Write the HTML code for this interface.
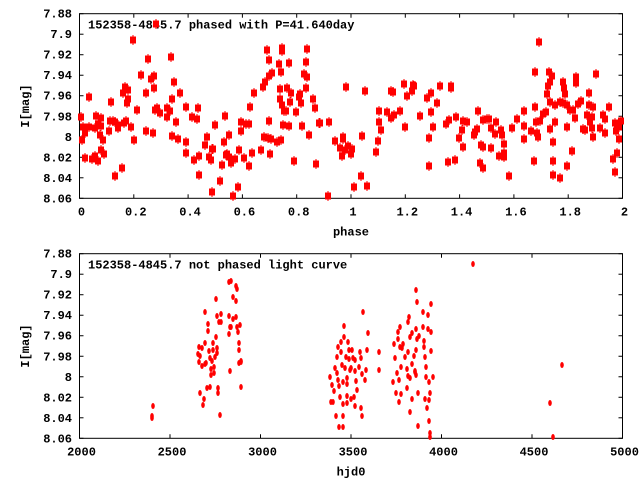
<!DOCTYPE html>
<html><head><meta charset="utf-8"><style>
html,body{margin:0;padding:0;background:#fff;}
svg{display:block;}
text{font-family:"Liberation Mono",monospace;font-weight:bold;font-size:12px;fill:#000;}
</style></head><body>
<svg id="s" width="640" height="480" xmlns="http://www.w3.org/2000/svg">
<rect width="640" height="480" fill="#fff"/>
<g id="g"></g>
</svg>
<script>
(function(){
var NS="http://www.w3.org/2000/svg",g=document.getElementById('g');
function el(t,a,txt){var e=document.createElementNS(NS,t);for(var k in a)e.setAttribute(k,a[k]);if(txt!==undefined)e.textContent=txt;g.appendChild(e);return e;}
var L=79.5,R=622.5;
function frame(T,B,xt,title,xl){
  el('rect',{x:L,y:T,width:R-L,height:B-T,fill:'none',stroke:'#000','stroke-width':1});
  var yl=['7.88','7.9','7.92','7.94','7.96','7.98','8','8.02','8.04','8.06'];
  for(var i=0;i<10;i++){var y=T+(B-T)*i/9;
    el('line',{x1:L,y1:y,x2:L+4,y2:y,stroke:'#000'});el('line',{x1:R,y1:y,x2:R-4,y2:y,stroke:'#000'});
    el('text',{x:72,y:y+4,'text-anchor':'end'},yl[i]);}
  for(var j=0;j<xt.length;j++){var x=L+(R-L)*j/(xt.length-1);
    el('line',{x1:x,y1:T,x2:x,y2:T+4,stroke:'#000'});el('line',{x1:x,y1:B,x2:x,y2:B-4,stroke:'#000'});
    el('text',{x:x+2,y:B+17,'text-anchor':'middle'},xt[j]);}
  el('text',{x:88,y:T+15},title);
  el('text',{x:351,y:B+37,'text-anchor':'middle'},xl);
  var cy=(T+B)/2;el('text',{x:29,y:cy,'text-anchor':'middle',transform:'rotate(-90 29 '+cy+')'},'I[mag]');
}
frame(13.7,198.3,['0','0.2','0.4','0.6','0.8','1','1.2','1.4','1.6','1.8','2'],'152358-4845.7 phased with P=41.640day','phase');
frame(253.7,438.3,['2000','2500','3000','3500','4000','4500','5000'],'152358-4845.7 not phased light curve','hjd0');
var topPts=[81,117,82,140,83,127,85,133,85,158,89,97,89,127,92,159,95,156,96,116,95,128,98,124,98,161,101,126,100,135,101,150,101,118,103,140,104,154,109,131,110,121,111,102,113,121,115,176,115,122,118,125,118,128,122,168,123,93,124,123,125,87,126,121,127,103,128,90,128,99,131,127,133,40,134,140,137,110,141,75,146,93,146,131,148,59,151,79,153,133,154,76,154,88,155,110,157,108,156,24,160,113,167,117,167,108,170,111,171,57,172,99,172,136,174,82,176,122,178,139,180,93,186,107,186,142,186,153,192,117,194,160,197,119,198,108,199,156,199,175,205,145,207,137,209,157,211,160,212,149,213,149,212,192,215,125,220,181,222,165,224,142,225,116,226,155,227,154,229,135,229,157,231,163,233,196,235,159,238,187,239,150,241,122,241,131,244,158,246,124,249,124,249,166,250,107,252,153,254,93,261,150,263,87,265,82,264,137,267,50,268,138,269,121,269,60,269,76,270,154,271,139,272,73,277,142,279,64,280,89,281,72,280,99,281,140,282,48,282,51,282,105,283,125,284,111,286,111,287,88,289,63,289,126,290,102,291,93,294,161,296,112,299,97,300,94,301,103,302,126,304,74,306,62,306,88,307,49,307,77,309,135,313,99,315,108,316,164,319,123,
320,123,329,122,335,141,340,148,342,156,343,137,343,139,345,150,346,87,348,146,351,154,352,149,328,196,354,187,361,176,362,136,365,91,367,186,376,152,378,141,379,111,379,122,381,130,387,112,391,118,391,91,393,92,394,115,400,111,404,84,405,127,407,96,412,91,413,85,414,86,420,116,427,98,429,138,429,166,431,112,431,93,433,127,437,103,440,86,446,124,448,162,449,120,451,86,451,88,455,160,456,117,459,138,462,130,463,147,463,121,467,122,474,135,475,132,477,129,478,111,480,163,481,145,483,168,483,147,483,120,487,119,489,119,491,128,491,148,495,134,496,122,499,156,501,130,502,135,504,144,504,153,504,157,509,176,512,128,517,119,524,111,524,126,524,139,531,131,534,161,535,107,536,122,537,133,538,137,535,72,539,42,540,121,543,114,546,112,547,94,548,86,549,72,550,82,550,102,550,129,552,76,553,142,553,161,553,175,555,105,555,122,560,102,560,178,563,82,563,103,564,88,565,94,567,105,567,127,567,166,570,110,572,151,573,110,575,118,576,77,576,83,578,104,581,101,583,129,585,130,587,115,589,93,589,105,590,122,592,117,592,128,593,107,593,137,596,74,600,128,603,115,605,119,605,133,609,107,613,159,615,123,615,172,616,131,617,125,617,153,619,127,619,139,621,121];
for(var i=0;i<topPts.length;i+=2){var x=topPts[i],y=topPts[i+1];
  el('rect',{x:x-3,y:y-3.5,width:6,height:7,fill:'#f00'});
  el('line',{x1:x,y1:y-5,x2:x,y2:y+5,stroke:'#f00','stroke-width':1});}
var bot=[153,406,152,416,152,418,198,354,199,362,199,347,200,356,200,393,202,348,202,366,203,405,204,399,205,364,205,312,205,343,206,363,207,388,208,331,208,324,209,351,210,387,210,358,211,369,211,375,212,361,213,343,213,350,214,373,214,367,215,357,216,337,216,299,217,316,217,353,217,348,218,393,218,388,219,322,220,415,221,322,221,314,229,282,229,316,229,334,230,327,230,371,231,327,231,281,233,297,233,319,236,286,236,301,236,317,237,289,237,327,238,332,239,343,239,350,239,363,240,325,241,362,241,387,241,361,
330,377,331,402,332,385,333,402,334,391,335,368,336,416,337,373,337,357,338,347,338,380,339,386,339,427,340,397,341,342,341,352,342,365,343,404,343,382,343,427,343,416,344,337,344,326,345,368,346,357,347,403,347,384,347,378,347,396,348,342,349,359,349,350,350,370,351,399,351,368,352,350,353,358,354,397,355,371,355,360,355,406,356,381,357,390,359,367,360,352,361,358,361,408,362,374,362,416,363,312,365,380,366,370,367,350,368,333,379,352,379,370,393,382,394,344,395,358,396,393,397,373,398,332,398,339,399,380,399,402,400,347,400,327,401,367,401,394,402,348,403,344,405,357,407,369,407,388,408,352,408,376,408,322,409,317,410,337,410,378,410,412,412,399,412,364,412,333,414,356,415,371,415,372,416,329,416,375,416,290,416,350,417,339,417,302,418,393,418,426,419,336,423,327,423,312,424,347,424,341,425,357,425,399,426,377,426,367,427,408,428,329,428,315,429,382,429,400,429,421,430,433,430,437,430,393,431,304,431,332,431,351,433,377,473,264,550,403,553,437,562,365];
for(var i=0;i<bot.length;i+=2){el('ellipse',{cx:bot[i],cy:bot[i+1],rx:1.8,ry:3,fill:'#f00'});}
})();
</script>
</body></html>
